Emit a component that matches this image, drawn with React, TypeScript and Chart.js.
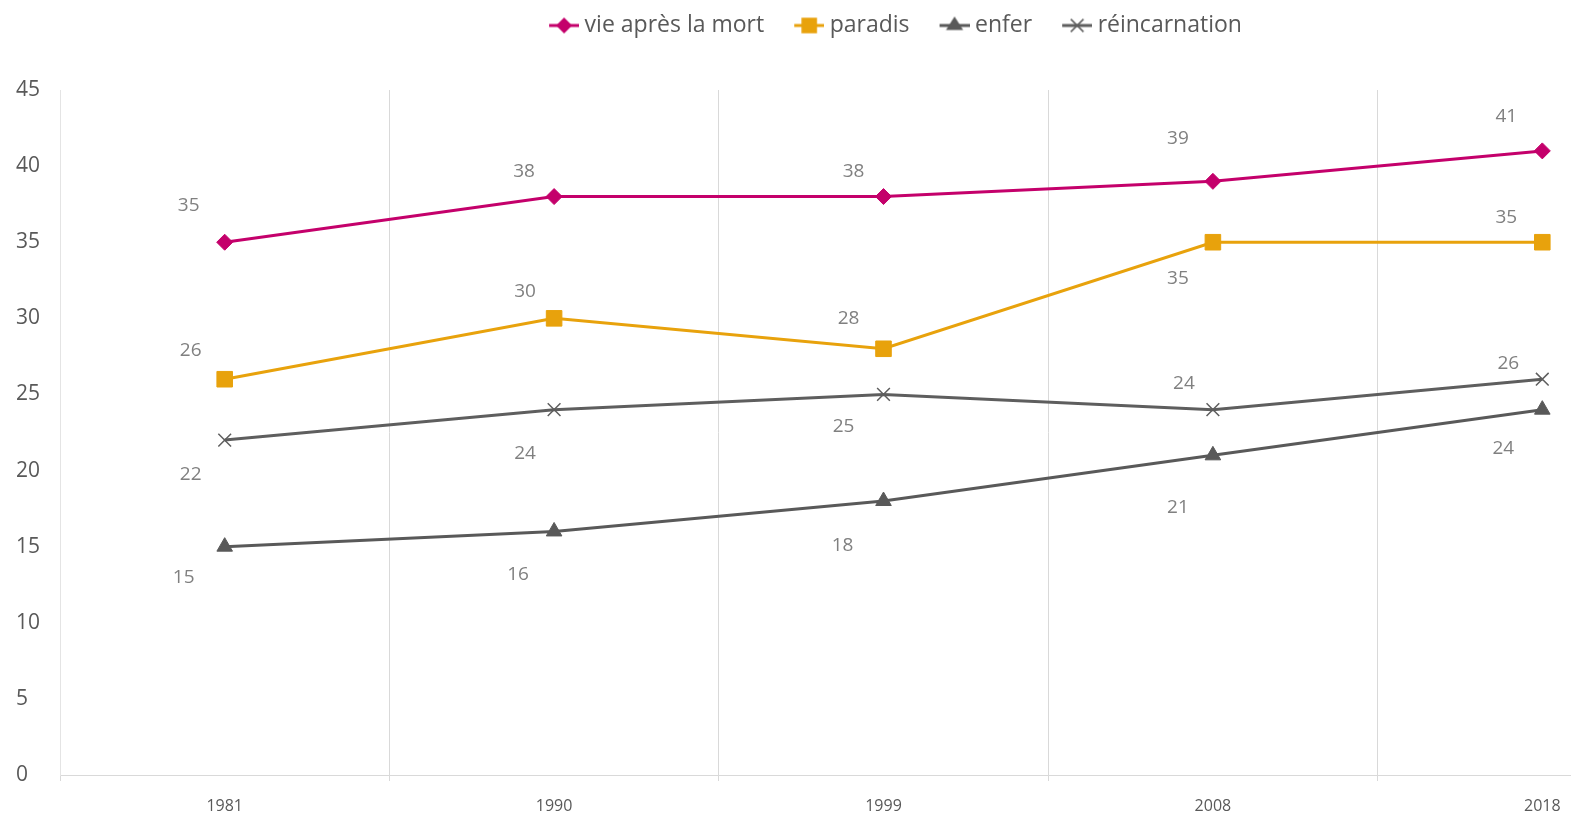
import React, { useEffect, useRef } from "react";
import { Chart, registerables } from "chart.js";

Chart.register(...registerables);

// ---- data ----
const categories = ["1981", "1990", "1999", "2008", "2018"];
const seriesNames = ["vie après la mort", "paradis", "enfer", "réincarnation"];
const vieApresLaMort = [35, 38, 38, 39, 41];
const paradis = [26, 30, 28, 35, 35];
const enfer = [15, 16, 18, 21, 24];
const reincarnation = [22, 24, 25, 24, 26];
const yMin = 0;
const yMax = 45;
const yStep = 5;

// ---- styling (label offsets relative to each point, in px) ----
const labelDx = [
  [-36, -30, -30, -35, -36],
  [-34, -29, -35, -35, -36],
  [-41, -36, -41, -35, -39],
  [-34, -29, -40, -29, -34],
];
const labelDy = [
  [-37, -25, -25, -43, -34],
  [-29, -27, -30, 36, -25],
  [31, 43, 45, 52, 39],
  [34, 44, 32, -26, -16],
];

const colors = ["#C4006B", "#E8A20C", "#595959", "#5E5E5E"];
const pointStyles = ["rectRot", "rect", "triangle", "crossRot"];
const pointRadii = [8, 11, 9, 9];

const FONT = '"Open Sans", "DejaVu Sans", sans-serif';

function makeLegendIcon(color: string, style: string, r: number): HTMLCanvasElement {
  const c = document.createElement("canvas");
  c.width = 52;
  c.height = 24;
  const g = c.getContext("2d")!;
  const cy = 12;
  const x0 = 22;
  const x1 = 52;
  const cx = (x0 + x1) / 2;
  g.strokeStyle = color;
  g.fillStyle = color;
  g.lineWidth = 3;
  g.beginPath();
  g.moveTo(x0, cy);
  g.lineTo(x1, cy);
  g.stroke();
  g.beginPath();
  if (style === "rectRot") {
    g.moveTo(cx - r, cy);
    g.lineTo(cx, cy - r);
    g.lineTo(cx + r, cy);
    g.lineTo(cx, cy + r);
    g.closePath();
    g.fill();
  } else if (style === "rect") {
    const s = r * Math.SQRT1_2;
    g.rect(cx - s, cy - s, 2 * s, 2 * s);
    g.fill();
  } else if (style === "triangle") {
    const h = r * 1.5;
    g.moveTo(cx, cy - r);
    g.lineTo(cx + r * 0.95, cy + h - r);
    g.lineTo(cx - r * 0.95, cy + h - r);
    g.closePath();
    g.fill();
  } else {
    const d = r * Math.SQRT1_2;
    g.lineWidth = 1.5;
    g.moveTo(cx - d, cy - d);
    g.lineTo(cx + d, cy + d);
    g.moveTo(cx + d, cy - d);
    g.lineTo(cx - d, cy + d);
    g.stroke();
  }
  return c;
}

const pointLabelPlugin = {
  id: "pointLabels",
  afterDatasetsDraw(chart: any) {
    const ctx = chart.ctx;
    ctx.save();
    ctx.font = `19px ${FONT}`;
    ctx.fillStyle = "#808080";
    ctx.textAlign = "center";
    ctx.textBaseline = "middle";
    chart.data.datasets.forEach((ds: any, i: number) => {
      const meta = chart.getDatasetMeta(i);
      meta.data.forEach((pt: any, j: number) => {
        ctx.fillText(String(ds.data[j]), pt.x + labelDx[i][j], pt.y + labelDy[i][j]);
      });
    });
    ctx.restore();
  },
};

const legendLayoutPlugin = {
  id: "legendLayout",
  beforeInit(chart: any) {
    const legend = chart.legend;
    if (!legend) return;
    const orig = legend.fit;
    legend.fit = function () {
      orig.call(this);
      this.height = 90;
    };
  },
  afterLayout(chart: any) {
    const legend = chart.legend;
    if (!legend) return;
    legend.left += 26;
    legend.right += 26;
  },
};

export default function App() {
  const ref = useRef<HTMLCanvasElement | null>(null);

  useEffect(() => {
    const canvas = ref.current;
    if (!canvas) return;
    const seriesData = [vieApresLaMort, paradis, enfer, reincarnation];
    const icons = seriesNames.map((_, i) => makeLegendIcon(colors[i], pointStyles[i], pointRadii[i]));

    const chart = new Chart(canvas, {
      type: "line",
      data: {
        labels: categories,
        datasets: seriesNames.map((name, i) => ({
          label: name,
          data: seriesData[i],
          borderColor: colors[i],
          backgroundColor: colors[i],
          borderWidth: 3,
          pointStyle: pointStyles[i] as any,
          pointRadius: pointRadii[i],
          pointHoverRadius: pointRadii[i],
          pointBackgroundColor: colors[i],
          pointBorderColor: colors[i],
          pointBorderWidth: i === 3 ? 1.5 : 1,
          tension: 0,
          fill: false,
        })),
      },
      options: {
        responsive: false,
        animation: false,
        devicePixelRatio: window.devicePixelRatio || 1,
        layout: { padding: { left: 16, right: 83, top: 0, bottom: 0 } },
        plugins: {
          tooltip: { enabled: false },
          legend: {
            position: "top",
            labels: {
              usePointStyle: true,
              pointStyleWidth: 40,
              padding: 14,
              color: "#595959",
              font: { family: FONT, size: 23 },
              generateLabels: (ch: any) => {
                const items = Chart.defaults.plugins.legend.labels.generateLabels(ch);
                return items.map((it: any, i: number) => ({ ...it, pointStyle: icons[i] }));
              },
            },
          },
        },
        scales: {
          x: {
            type: "category",
            offset: true,
            grid: {
              offset: true,
              display: true,
              color: "#D9D9D9",
              lineWidth: 1,
              drawTicks: true,
              tickLength: 6,
            },
            border: { display: true, color: "#D9D9D9", width: 1 },
            ticks: {
              color: "#595959",
              font: { family: FONT, size: 16 },
              padding: 16,
              maxRotation: 0,
            },
            afterFit: (scale: any) => {
              scale.height = 43;
            },
          },
          y: {
            min: yMin,
            max: yMax,
            grid: { display: false },
            border: { display: true, color: "#E4E4E4", width: 1 },
            ticks: {
              stepSize: yStep,
              color: "#595959",
              font: { family: FONT, size: 21 },
              crossAlign: "far",
            },
            afterFit: (scale: any) => {
              scale.width = 44;
            },
          },
        },
      },
      plugins: [pointLabelPlugin, legendLayoutPlugin],
    });

    return () => chart.destroy();
  }, []);

  return (
    <div
      style={{
        position: "absolute",
        left: 0,
        top: 0,
        width: 1571,
        height: 818,
        overflow: "hidden",
        background: "#FFFFFF",
      }}
    >
      <canvas ref={ref} width={1790} height={818} style={{ width: 1790, height: 818, display: "block" }} />
    </div>
  );
}
